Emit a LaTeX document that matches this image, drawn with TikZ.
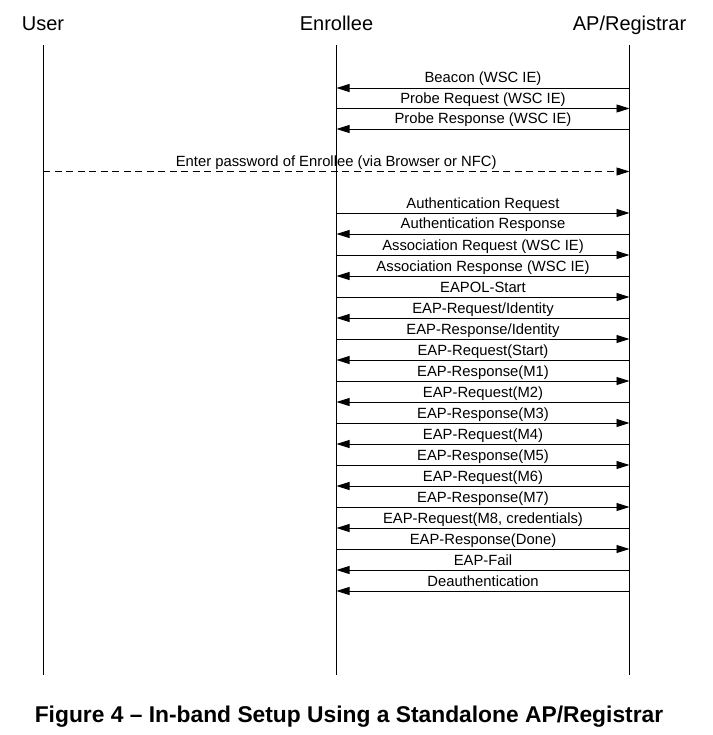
\documentclass[tikz,border=0pt]{standalone}
\usepackage{fontspec}
\setmainfont{Liberation Sans}
\usepackage{tikz}
\usetikzlibrary{arrows.meta}

\begin{document}
\begin{tikzpicture}[x=1pt,y=-1pt,
    line width=0.9pt,
    msg/.style={-{Triangle[length=13pt,width=8pt]}},
    lab/.style={anchor=base,yshift=5pt,inner sep=0pt,font=\fontsize{14.8}{16}\selectfont},
    head/.style={anchor=base,inner sep=0pt,font=\fontsize{20}{22}\selectfont}]
  \useasboundingbox (0,0) rectangle (712,735);
  % heads and lifelines
  \node[head] (user) at (43,31) {User};
  \node[head] (enrollee) at (336.5,31) {Enrollee};
  \node[head] (ap) at (629.5,31) {AP/Registrar};
  \coordinate (u0) at (43,45);
  \coordinate (u99) at (43,675);
  \coordinate (e0) at (336.5,45);
  \coordinate (e99) at (336.5,675);
  \coordinate (a0) at (629.5,45);
  \coordinate (a99) at (629.5,675);
  \draw
    (u0)
    --
    (u99);
  \draw
    (e0)
    --
    (e99);
  \draw
    (a0)
    --
    (a99);
  % discovery
  \coordinate (e1) at (336.5,88);
  \coordinate (a1) at (629.5,88);
  \coordinate (e2) at (336.5,108.5);
  \coordinate (a2) at (629.5,108.5);
  \coordinate (e3) at (336.5,129);
  \coordinate (a3) at (629.5,129);
  \draw[msg]
    (a1)
    -- node[lab] {Beacon (WSC IE)}
    (e1);
  \draw[msg]
    (e2)
    -- node[lab] {Probe Request (WSC IE)}
    (a2);
  \draw[msg]
    (a3)
    -- node[lab] {Probe Response (WSC IE)}
    (e3);
  % password from the user
  \coordinate (u-pw) at (43,171.5);
  \coordinate (a-pw) at (629.5,171.5);
  \draw[msg,dash pattern=on 7pt off 4.5pt]
    (u-pw)
    -- node[lab] {Enter password of Enrollee (via Browser or NFC)}
    (a-pw);
  % association
  \coordinate (e4) at (336.5,213);
  \coordinate (a4) at (629.5,213);
  \coordinate (e5) at (336.5,234);
  \coordinate (a5) at (629.5,234);
  \coordinate (e6) at (336.5,255);
  \coordinate (a6) at (629.5,255);
  \coordinate (e7) at (336.5,276);
  \coordinate (a7) at (629.5,276);
  \draw[msg]
    (e4)
    -- node[lab] {Authentication Request}
    (a4);
  \draw[msg]
    (a5)
    -- node[lab] {Authentication Response}
    (e5);
  \draw[msg]
    (e6)
    -- node[lab] {Association Request (WSC IE)}
    (a6);
  \draw[msg]
    (a7)
    -- node[lab] {Association Response (WSC IE)}
    (e7);
  % EAP exchange
  \coordinate (e8) at (336.5,297);
  \coordinate (a8) at (629.5,297);
  \coordinate (e9) at (336.5,318);
  \coordinate (a9) at (629.5,318);
  \coordinate (e10) at (336.5,339);
  \coordinate (a10) at (629.5,339);
  \coordinate (e11) at (336.5,360);
  \coordinate (a11) at (629.5,360);
  \coordinate (e12) at (336.5,381);
  \coordinate (a12) at (629.5,381);
  \coordinate (e13) at (336.5,402);
  \coordinate (a13) at (629.5,402);
  \coordinate (e14) at (336.5,423);
  \coordinate (a14) at (629.5,423);
  \coordinate (e15) at (336.5,444);
  \coordinate (a15) at (629.5,444);
  \coordinate (e16) at (336.5,465);
  \coordinate (a16) at (629.5,465);
  \coordinate (e17) at (336.5,486);
  \coordinate (a17) at (629.5,486);
  \coordinate (e18) at (336.5,507);
  \coordinate (a18) at (629.5,507);
  \coordinate (e19) at (336.5,528);
  \coordinate (a19) at (629.5,528);
  \coordinate (e20) at (336.5,549);
  \coordinate (a20) at (629.5,549);
  \coordinate (e21) at (336.5,570);
  \coordinate (a21) at (629.5,570);
  \coordinate (e22) at (336.5,591);
  \coordinate (a22) at (629.5,591);
  \draw[msg]
    (e8)
    -- node[lab] {EAPOL-Start}
    (a8);
  \draw[msg]
    (a9)
    -- node[lab] {EAP-Request/Identity}
    (e9);
  \draw[msg]
    (e10)
    -- node[lab] {EAP-Response/Identity}
    (a10);
  \draw[msg]
    (a11)
    -- node[lab] {EAP-Request(Start)}
    (e11);
  \draw[msg]
    (e12)
    -- node[lab] {EAP-Response(M1)}
    (a12);
  \draw[msg]
    (a13)
    -- node[lab] {EAP-Request(M2)}
    (e13);
  \draw[msg]
    (e14)
    -- node[lab] {EAP-Response(M3)}
    (a14);
  \draw[msg]
    (a15)
    -- node[lab] {EAP-Request(M4)}
    (e15);
  \draw[msg]
    (e16)
    -- node[lab] {EAP-Response(M5)}
    (a16);
  \draw[msg]
    (a17)
    -- node[lab] {EAP-Request(M6)}
    (e17);
  \draw[msg]
    (e18)
    -- node[lab] {EAP-Response(M7)}
    (a18);
  \draw[msg]
    (a19)
    -- node[lab] {EAP-Request(M8, credentials)}
    (e19);
  \draw[msg]
    (e20)
    -- node[lab] {EAP-Response(Done)}
    (a20);
  \draw[msg]
    (a21)
    -- node[lab] {EAP-Fail}
    (e21);
  \draw[msg]
    (a22)
    -- node[lab] {Deauthentication}
    (e22);
  % caption
  \node[anchor=base,inner sep=0pt,font=\bfseries\fontsize{22.8}{24}\selectfont] (caption)
    at (349,722) {Figure 4 -- In-band Setup Using a Standalone AP/Registrar};
\end{tikzpicture}
\end{document}
